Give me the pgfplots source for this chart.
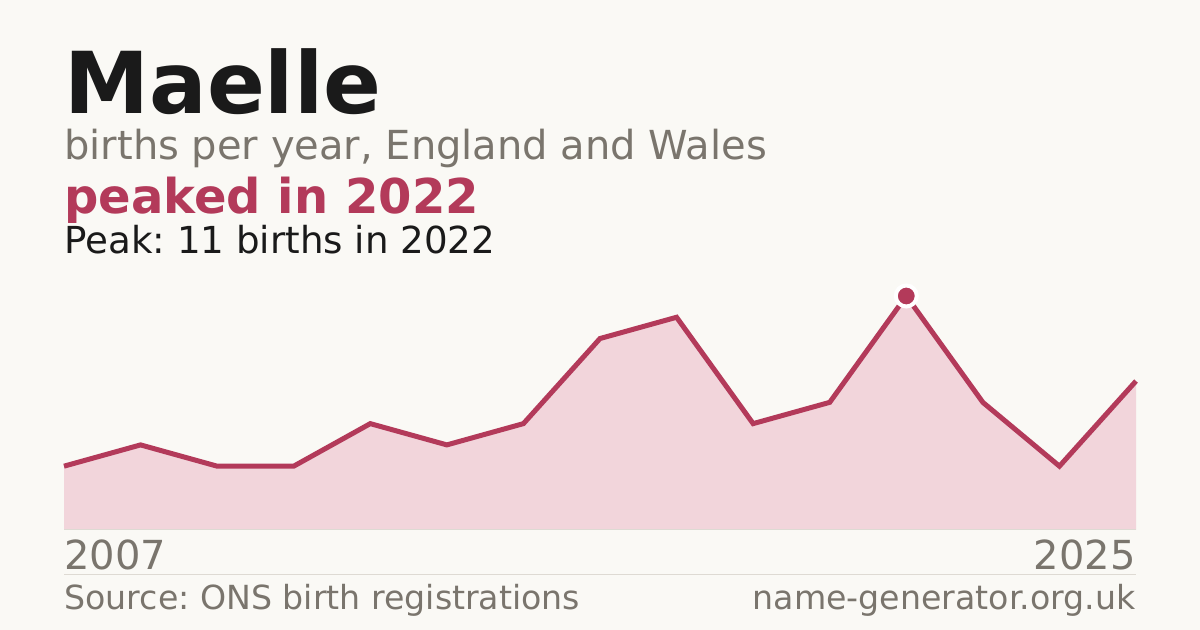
\documentclass[border=0pt]{standalone}
\usepackage{pgfplots}
\pgfplotsset{compat=1.18}
\usepackage{fontspec}
\setmainfont{DejaVu Sans}
\definecolor{bg}{HTML}{FAF9F5}
\definecolor{ink}{HTML}{1A1A1A}
\definecolor{muted}{HTML}{7A756D}
\definecolor{accent}{HTML}{B33A5A}
\definecolor{areafill}{HTML}{F2D5DB}
\definecolor{rule}{HTML}{DEDAD3}

% births per year (one point per reported year)
\pgfplotstableread{
idx births
0 3
1 4
2 3
3 3
4 5
5 4
6 5
7 9
8 10
9 5
10 6
11 11
12 6
13 3
14 7
}\births

\begin{document}
\frenchspacing
\begin{tikzpicture}
% canvas: 1px = 0.5pt
\fill[bg] (0,0) rectangle (600pt,315pt);

\node[anchor=base west, inner sep=0, text=ink] at (32pt,258.4pt)
  {\fontsize{42.7}{50}\selectfont\bfseries Maelle};
\node[anchor=base west, inner sep=0, text=muted] at (32pt,235pt)
  {\fontsize{20}{24}\selectfont births per year, England and Wales};
\node[anchor=base west, inner sep=0, text=accent] at (32pt,208.4pt)
  {\fontsize{24}{28}\selectfont\bfseries peaked in 2022};
\node[anchor=base west, inner sep=0, text=ink] at (32pt,188.4pt)
  {\fontsize{18.6}{22}\selectfont Peak: 11 births in 2022};

\begin{axis}[
    at={(32pt,50pt)}, anchor=south west,
    scale only axis, width=536pt, height=117pt,
    xmin=0, xmax=14, ymin=0, ymax=11,
    hide axis, clip=false]
  \addplot[fill=areafill, draw=none] table[x=idx, y=births] {\births} \closedcycle;
  \draw[rule, line width=0.5pt] (axis cs:0,0) -- (axis cs:14,0);
  \addplot[accent, line width=2.5pt, line join=miter, no marks] table[x=idx, y=births] {\births};
  \addplot[only marks, mark=*, mark size=5.25pt,
    mark options={fill=accent, draw=white, line width=2pt}] coordinates {(11,11)};
\end{axis}

\node[anchor=base west, inner sep=0, text=muted] at (32pt,30pt)
  {\fontsize{20}{24}\selectfont 2007};
\node[anchor=base east, inner sep=0, text=muted] at (568pt,30pt)
  {\fontsize{20}{24}\selectfont 2025};
\draw[rule, line width=0.5pt] (32pt,27.85pt) -- (568pt,27.85pt);
\node[anchor=base west, inner sep=0, text=muted] at (32pt,10pt)
  {\fontsize{16.6}{20}\selectfont Source: ONS birth registrations};
\node[anchor=base east, inner sep=0, text=muted] at (568pt,10pt)
  {\fontsize{16.6}{20}\selectfont name-generator.org.uk};
\end{tikzpicture}
\end{document}
